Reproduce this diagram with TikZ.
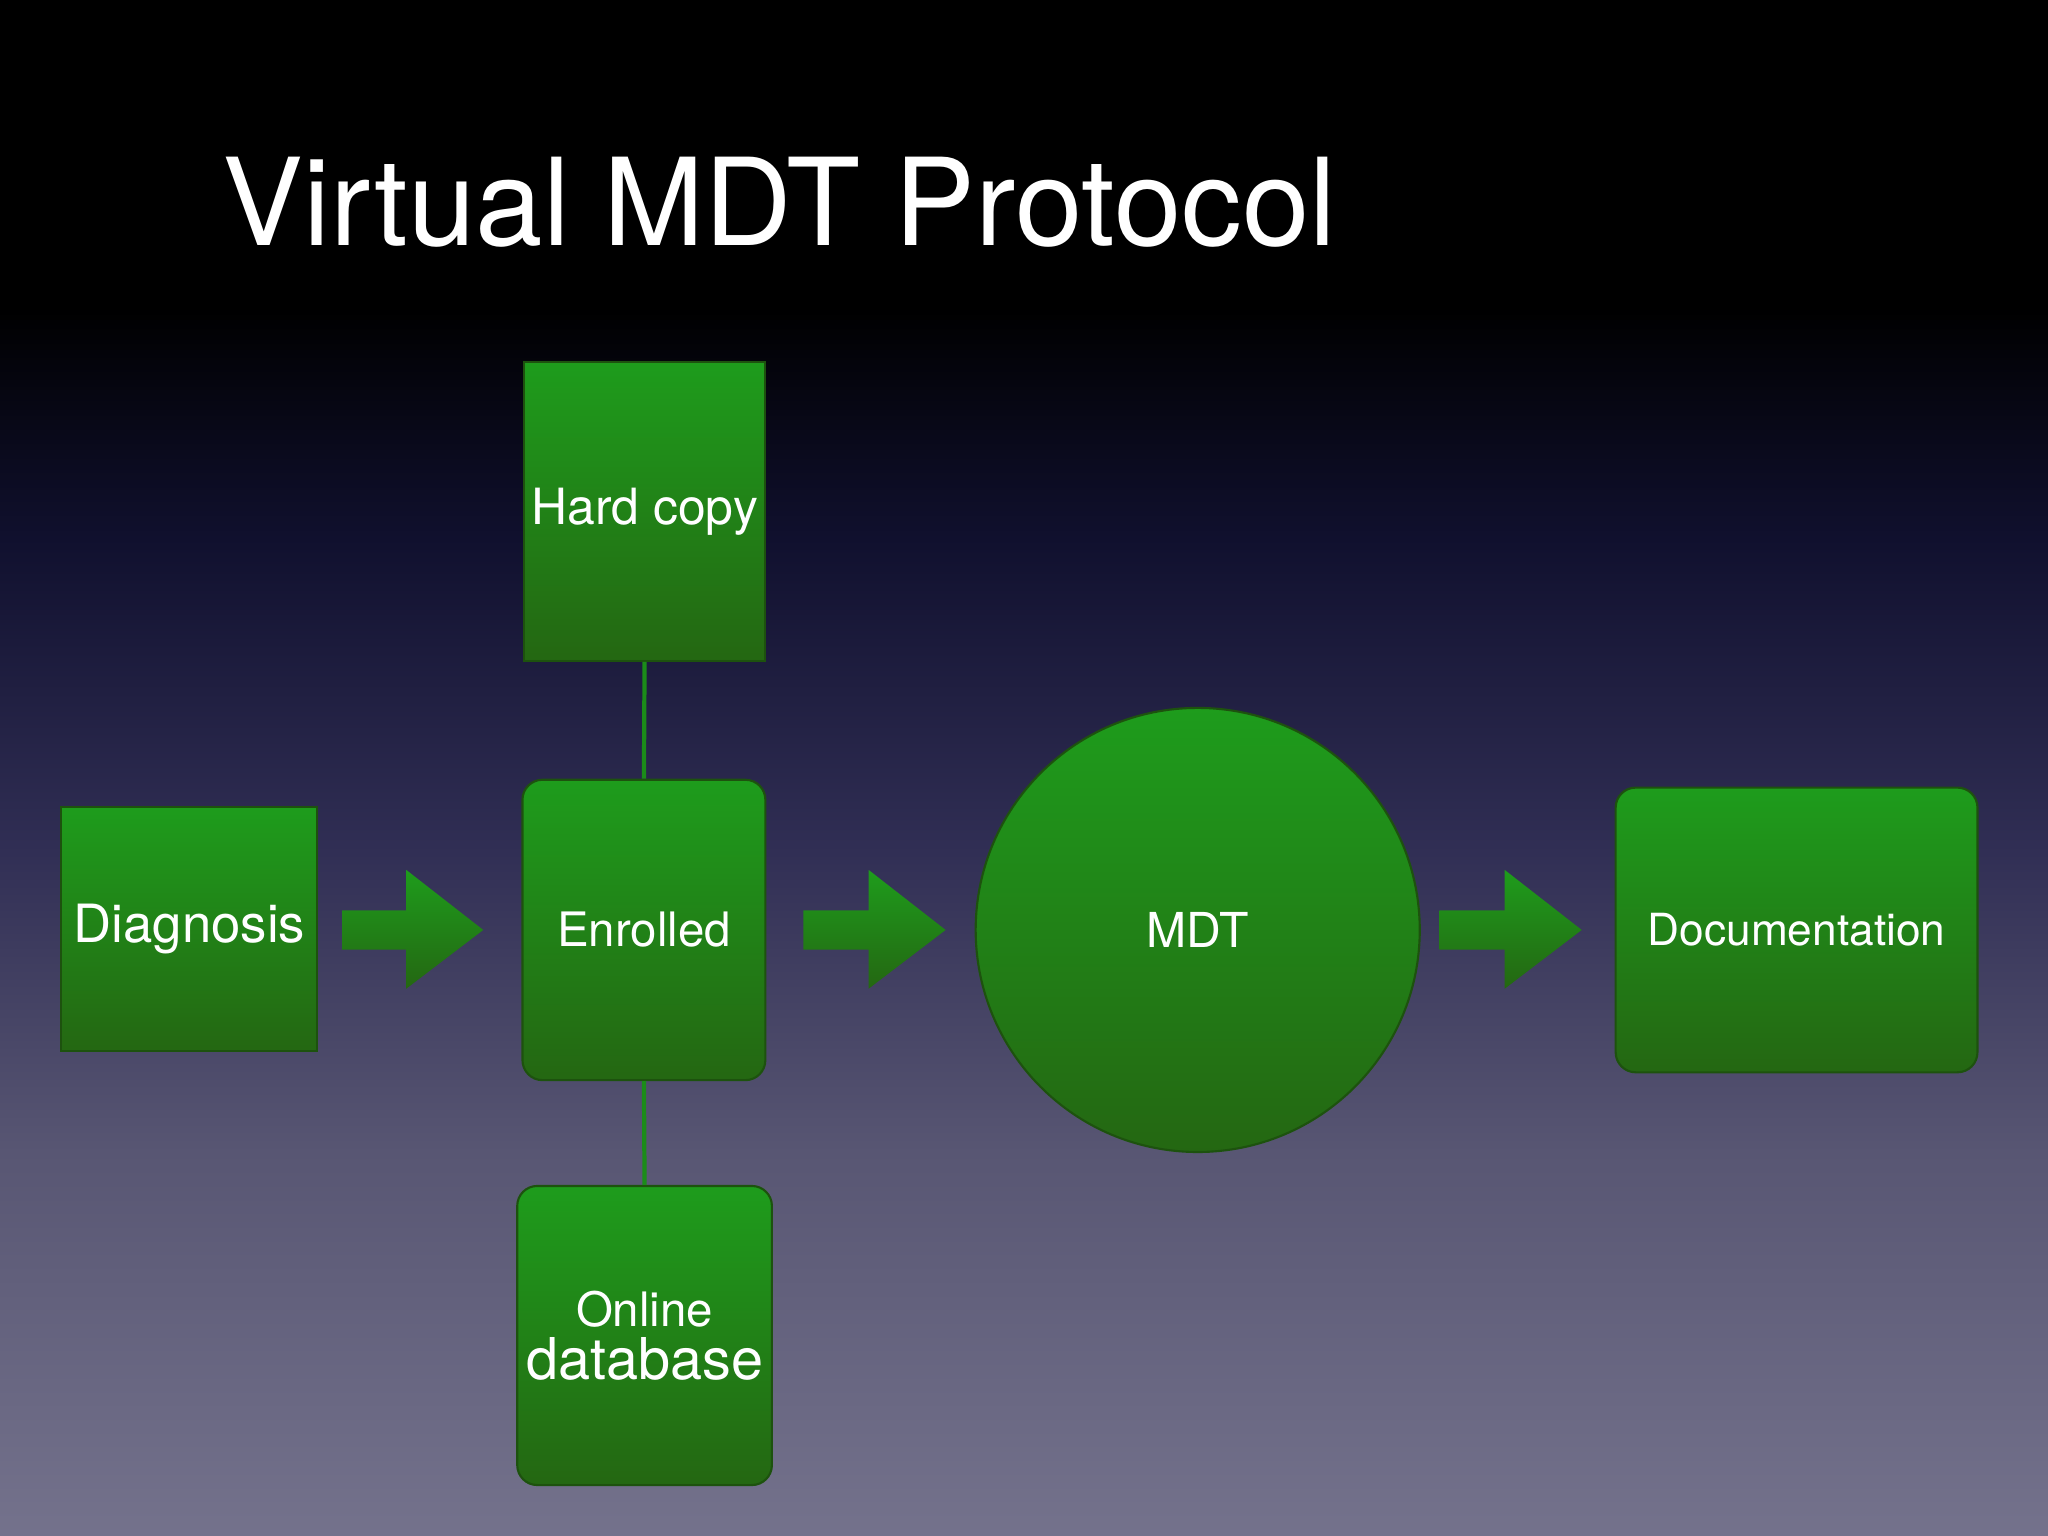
\documentclass[tikz,border=0pt]{standalone}
\usepackage{fontspec}
\setmainfont{TeX Gyre Heros}
\begin{document}
\begin{tikzpicture}[x=0.013061cm,y=-0.013061cm,
  box/.style={top color=green1,bottom color=green2,draw=green2!80!black,line width=0.6pt,text=white,align=center,inner sep=0pt},
  link/.style={draw=green1!90!black,line width=1.2pt},
  blk/.style={top color=green1,bottom color=green2,draw=none}]
\definecolor{green1}{HTML}{1E9C1C}
\definecolor{green2}{HTML}{246712}
\definecolor{bgA}{RGB}{116,114,140}
\definecolor{bgB}{RGB}{88,86,115}
\definecolor{bgC}{RGB}{48,46,84}
\definecolor{bgD}{RGB}{16,16,46}
\pgfdeclareverticalshading{bgshade}{100bp}{color(0bp)=(bgA); color(25bp)=(bgA); color(37.5bp)=(bgB); color(47.5bp)=(bgC); color(57.5bp)=(bgD); color(65bp)=(black); color(100bp)=(black)}
\useasboundingbox (0,0) rectangle (1568,1176);
\shade[shading=bgshade] (0,0) rectangle (1568,1176);
\node[anchor=base west,text=white,font=\fontsize{34.5}{40}\selectfont,inner sep=0pt] (title) at (170,188) {Virtual MDT Protocol};
\node[box,rectangle,minimum width=2.416cm,minimum height=2.991cm,font=\fontsize{14.2}{17}\selectfont] (hard) at (493.5,391.5) {Hard copy};
\node[box,rectangle,minimum width=2.56cm,minimum height=2.442cm,font=\fontsize{15}{18}\selectfont] (diag) at (145,711.5) {Diagnosis};
\node[box,rectangle,rounded corners=0.2cm,minimum width=2.429cm,minimum height=3.004cm,font=\fontsize{13.5}{16}\selectfont] (enr) at (493,712) {Enrolled};
\node[box,rectangle,rounded corners=0.2cm,minimum width=2.547cm,minimum height=2.991cm] (onl) at (493.5,1022.5) {\fontsize{13.5}{16}\selectfont Online\\[2pt]\fontsize{16.4}{19}\selectfont database};
\node[box,circle,minimum size=4.441cm,font=\fontsize{13.7}{16}\selectfont] (mdt) at (917,712) {MDT};
\node[box,rectangle,rounded corners=0.2cm,minimum width=3.618cm,minimum height=2.847cm,font=\fontsize{12.6}{15}\selectfont] (doc) at (1375.5,712) {Documentation};
\draw[link] (hard.south) -- (enr.north);
\draw[link] (enr.south) -- (onl.north);
\foreach \xa/\xb in {262/311,615/665,1102/1152}{
  \shade[blk] (\xa,697) -- (\xb,697) -- (\xb,666) -- (\xb+59,712) -- (\xb,757) -- (\xb,727) -- (\xa,727) -- cycle;
}
\end{tikzpicture}
\end{document}
